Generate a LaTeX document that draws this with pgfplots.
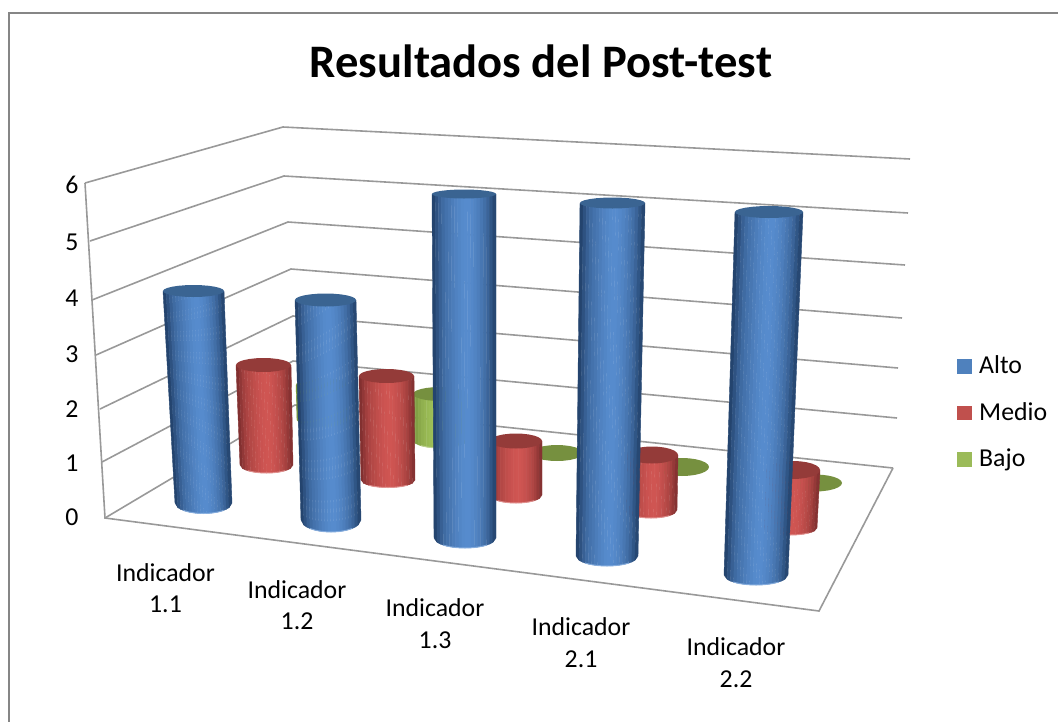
\documentclass[border=0pt]{standalone}
\usepackage{pgfplots}
\pgfplotsset{compat=1.18}
\usepackage{fontspec}
\setmainfont{Carlito}
\definecolor{legblue}{HTML}{4F81BD}
\definecolor{legred}{HTML}{C0504D}
\definecolor{leggreen}{HTML}{9BBB59}
\definecolor{topblue}{HTML}{3A6492}
\definecolor{topred}{HTML}{943B39}
\definecolor{topgreen}{HTML}{76903F}
\definecolor{rimblue}{HTML}{8DB3E2}
\definecolor{rimred}{HTML}{E59A98}
\definecolor{rimgreen}{HTML}{C3D69B}
\definecolor{gridc}{HTML}{999999}
\definecolor{framec}{HTML}{868686}
\definecolor{darkblue}{HTML}{24446E}\definecolor{lightblue}{HTML}{568BCD}
\definecolor{darkred}{HTML}{823030}\definecolor{lightred}{HTML}{CF5552}
\definecolor{darkgreen}{HTML}{78963E}\definecolor{lightgreen}{HTML}{A4C65C}
\def\arcpts#1#2#3#4#5{%
  \foreach \a in {#5}{%
    \pgfmathsetmacro\px{#1+#3*cos(\a)}%
    \pgfmathsetmacro\py{#2+#4*sin(\a)}%
    \xdef\pts{\pts (\px,\py)}%
  }}
% base: x y halfwidth halfheight; top: x y halfwidth halfheight; colour
\newcommand\cyl[9]{%
  \foreach \ua/\ub/\p in {-1/-.9/0,-.9/-.8/20,-.8/-.7/40,-.7/-.6/55,-.6/-.5/65,-.5/-.4/72,-.4/-.3/80,-.3/-.2/87,-.2/-.1/93,-.1/0/98,0/.1/100,.1/.2/100,.2/.3/96,.3/.4/90,.4/.5/82,.5/.6/72,.6/.7/60,.7/.8/45,.8/.9/25,.9/1/5}{%
    \pgfmathsetmacro\xa{#1+#3*\ua}\pgfmathsetmacro\ya{#2+#4*sqrt(abs(1-\ua*\ua))}%
    \pgfmathsetmacro\xb{#1+#3*\ub}\pgfmathsetmacro\yb{#2+#4*sqrt(abs(1-\ub*\ub))}%
    \pgfmathsetmacro\xc{#5+#7*\ub}\pgfmathsetmacro\xd{#5+#7*\ua}%
    \edef\tmp{\noexpand\addplot[draw=light#9!\p!dark#9,fill=light#9!\p!dark#9,line width=.4pt,forget plot] coordinates {(\xa,\ya)(\xb,\yb)(\xc,#6)(\xd,#6)(\xa,\ya)};}\tmp
  }%
  \gdef\pts{}%
  \arcpts{#1}{#2}{#3}{#4}{45,60,...,135}%
  \edef\tmp{\noexpand\addplot[draw=rim#9,line width=1pt,opacity=.8,forget plot] coordinates {\pts};}\tmp
  \gdef\pts{}%
  \arcpts{#5}{#6}{#7}{#8}{0,15,...,345}%
  \edef\tmp{\noexpand\addplot[draw=none,fill=top#9,forget plot] coordinates {\pts};}\tmp
}
\newcommand\disc[5]{%
  \gdef\pts{}%
  \arcpts{#1}{#2}{#3}{#4}{0,15,...,345}%
  \edef\tmp{\noexpand\addplot[draw=none,fill=top#5,forget plot] coordinates {\pts};}\tmp
}
\begin{document}
\begin{tikzpicture}
\path[use as bounding box] (0,0) rectangle (1058pt,721pt);
\begin{axis}[at={(0,0)},anchor=south west,scale only axis,width=1058pt,height=721pt,
  xmin=0,xmax=1058,ymin=0,ymax=721,y dir=reverse,hide axis,clip=true]
% frame
\addplot[draw=framec,line width=2pt] coordinates {(8.5,740)(8.5,13)(1070,13)};
% walls
\addplot[draw=gridc,line width=1.6pt] coordinates {(85,183)(283,127)(910,159)};
\addplot[draw=gridc,line width=1.6pt] coordinates {(90,241)(284,176)(908,213)};
\addplot[draw=gridc,line width=1.6pt] coordinates {(92,300)(288,222)(905,265)};
\addplot[draw=gridc,line width=1.6pt] coordinates {(96,355)(291,269)(902,318)};
\addplot[draw=gridc,line width=1.6pt] coordinates {(100,409)(293,316)(898,368)};
\addplot[draw=gridc,line width=1.6pt] coordinates {(102,462)(293,361)(897,418)};
\addplot[draw=gridc,line width=1.6pt] coordinates {(105,518)(295,405)(893,468)};
\addplot[draw=gridc,line width=1.6pt] coordinates {(85,183)(105,518)(819,611)(893,468)};
% Bajo
\cyl{323}{420}{26}{7}{322}{385}{26}{7}{green}
\cyl{440}{440}{27}{8}{440}{394}{27}{7}{green}
\disc{557}{453}{26}{8}{green}
\disc{682}{467}{27}{9}{green}
\disc{815}{483}{27}{8.5}{green}
% Medio
\cyl{266.5}{465}{26.5}{8}{263.5}{365}{27.5}{7}{red}
\cyl{388}{480}{27}{7.5}{386.5}{376}{27.5}{7}{red}
\cyl{516}{495}{26}{8}{516}{441}{26}{7.5}{red}
\cyl{651}{510}{26}{8}{652}{455}{26}{8.5}{red}
\cyl{790}{528}{27}{7}{793}{470}{27}{9}{red}
% Alto
\cyl{203.5}{503}{28.5}{10.5}{193.5}{291}{30.5}{6}{blue}
\cyl{331}{520}{30}{12}{325.5}{300}{30.5}{6.5}{blue}
\cyl{465}{538}{31}{10}{464}{194}{32}{4.5}{blue}
\cyl{607}{556}{31}{10}{612.5}{203}{32.5}{5.5}{blue}
\cyl{756}{575}{32}{10}{769}{212}{34}{6}{blue}
% legend keys
\addplot[draw=none,fill=legblue] coordinates {(957,359)(972,359)(972,374)(957,374)};
\addplot[draw=none,fill=legred] coordinates {(957,406)(972,406)(972,420)(957,420)};
\addplot[draw=none,fill=leggreen] coordinates {(957,452)(972,452)(972,467)(957,467)};
% text
\node[anchor=center,font=\fontsize{46.6}{46.6}\selectfont\bfseries] at (axis cs:541,61) {Resultados del Post-test};
\foreach \v/\yy in {6/184.5,5/242.5,4/298.5,3/354.5,2/409.5,1/463.5,0/517.5}{
  \edef\tmp{\noexpand\node[anchor=center,font=\noexpand\fontsize{25.8}{25.8}\noexpand\selectfont] at (axis cs:72,\yy) {\v};}\tmp
}
\foreach \lab/\xx/\ya/\yb in {1.1/165.5/573/604,1.2/297/590/621,1.3/435/608/640,2.1/581/627/659,2.2/736/647/679}{
  \edef\tmp{\noexpand\node[anchor=center,font=\noexpand\fontsize{25.8}{25.8}\noexpand\selectfont] at (axis cs:\xx,\ya) {Indicador};
  \noexpand\node[anchor=center,font=\noexpand\fontsize{25.8}{25.8}\noexpand\selectfont] at (axis cs:\xx,\yb) {\lab};}\tmp
}
\node[anchor=base west,inner sep=0pt,font=\fontsize{25.8}{25.8}\selectfont] at (axis cs:979,373.5) {Alto};
\node[anchor=base west,inner sep=0pt,font=\fontsize{25.8}{25.8}\selectfont] at (axis cs:979,420) {Medio};
\node[anchor=base west,inner sep=0pt,font=\fontsize{25.8}{25.8}\selectfont] at (axis cs:979,466) {Bajo};
\end{axis}
\end{tikzpicture}
\end{document}
